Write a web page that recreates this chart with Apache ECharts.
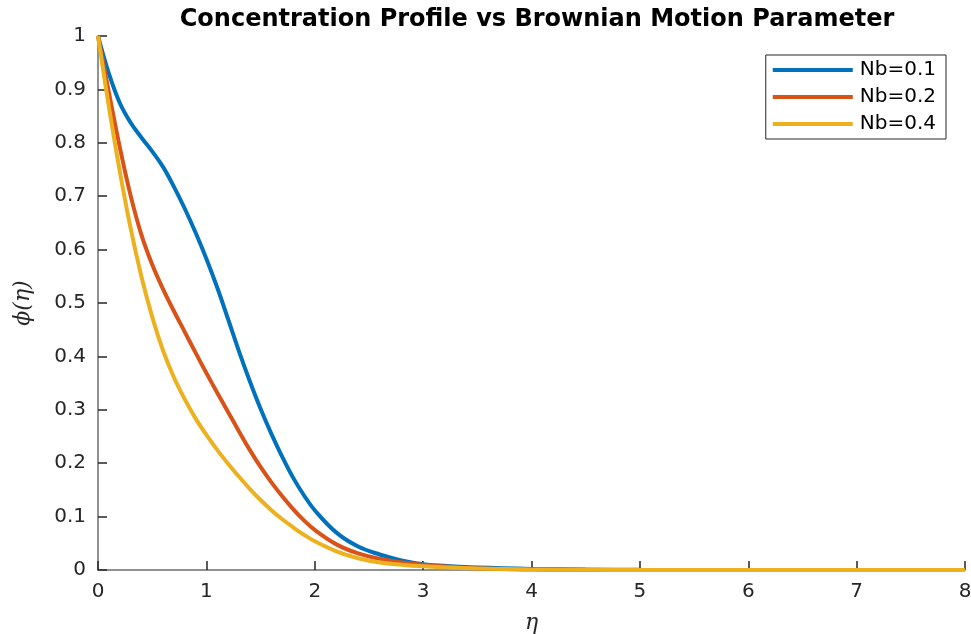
<!DOCTYPE html>
<html>
<head>
<meta charset="utf-8">
<script src="https://cdn.jsdelivr.net/npm/echarts@6/dist/echarts.min.js"></script>
<style>
  html, body { margin: 0; padding: 0; background: #ffffff; }
  #chart { width: 971px; height: 634px; }
</style>
</head>
<body>
<div id="chart"></div>
<script>
// Similarity variable η
const eta = [0, 0.1, 0.2, 0.3, 0.4, 0.5, 0.6, 0.7, 0.8, 0.9, 1.0,
             1.1, 1.2, 1.3, 1.4, 1.5, 1.6, 1.7, 1.8, 1.9, 2.0,
             2.2, 2.4, 2.6, 2.8, 3.0, 3.25, 3.5, 4, 4.5, 5, 6, 7, 8];

// Concentration φ(η) for each Brownian motion parameter
const phiNb01 = [1.0, 0.930, 0.875, 0.838, 0.810, 0.784, 0.755, 0.718, 0.677, 0.632, 0.583,
                 0.529, 0.470, 0.410, 0.354, 0.302, 0.255, 0.212, 0.173, 0.140, 0.112,
                 0.070, 0.044, 0.029, 0.018, 0.011, 0.007, 0.0045, 0.002, 0.0008, 0.0003, 0.0001, 0, 0];
const phiNb02 = [1.0, 0.895, 0.793, 0.702, 0.628, 0.572, 0.526, 0.485, 0.446, 0.407, 0.369,
                 0.332, 0.296, 0.260, 0.225, 0.193, 0.164, 0.138, 0.114, 0.093, 0.075,
                 0.048, 0.031, 0.021, 0.014, 0.010, 0.006, 0.003, 0.001, 0.0004, 0.0001, 0, 0, 0];
const phiNb04 = [1.0, 0.868, 0.748, 0.641, 0.550, 0.474, 0.411, 0.361, 0.320, 0.284, 0.253,
                 0.225, 0.199, 0.175, 0.152, 0.131, 0.112, 0.095, 0.080, 0.066, 0.054,
                 0.035, 0.022, 0.014, 0.010, 0.007, 0.0045, 0.003, 0.001, 0.0004, 0.0001, 0, 0, 0];

const seriesNames = ['Nb=0.1', 'Nb=0.2', 'Nb=0.4'];
const seriesColors = ['#0072BD', '#D95319', '#EDB120'];
const seriesValues = [phiNb01, phiNb02, phiNb04];

const pairs = (ys) => eta.map((x, i) => [x, ys[i]]);

const chart = echarts.init(document.getElementById('chart'), null, { renderer: 'canvas' });

const labelFont = { fontFamily: 'DejaVu Sans', fontSize: 20, color: '#262626' };
const mathFont = { fontFamily: 'DejaVu Serif', fontStyle: 'italic', fontSize: 22, color: '#262626' };

chart.setOption({
  animation: false,
  backgroundColor: '#ffffff',
  title: {
    text: 'Concentration Profile vs Brownian Motion Parameter',
    left: 532,
    top: 3,
    textAlign: 'center',
    textStyle: { fontFamily: 'DejaVu Sans', fontWeight: 'bold', fontSize: 24, color: '#000000' }
  },
  grid: { left: 98, right: 6, top: 36, bottom: 64, containLabel: false, outerBoundsMode: 'none' },
  legend: {
    orient: 'vertical',
    right: 25,
    top: 55,
    data: seriesNames,
    icon: 'rect',
    itemWidth: 80,
    itemHeight: 4,
    itemGap: 7,
    padding: [5, 10, 5, 7],
    backgroundColor: '#ffffff',
    borderColor: '#262626',
    borderWidth: 1,
    textStyle: { fontFamily: 'DejaVu Sans', fontSize: 20, color: '#000000', padding: [0, 0, 0, 2] }
  },
  xAxis: {
    type: 'value',
    min: 0,
    max: 8,
    interval: 1,
    name: 'η',
    nameLocation: 'middle',
    nameGap: 42,
    nameTextStyle: mathFont,
    axisLine: { show: true, lineStyle: { color: '#6e6e6e', width: 1.5 } },
    axisTick: { show: true, inside: true, length: 9, lineStyle: { color: '#262626', width: 1.5 } },
    axisLabel: Object.assign({ margin: 12 }, labelFont),
    splitLine: { show: false }
  },
  yAxis: {
    type: 'value',
    min: 0,
    max: 1,
    interval: 0.1,
    name: 'ϕ(η)',
    nameLocation: 'middle',
    nameRotate: 90,
    nameGap: 64,
    nameTextStyle: mathFont,
    axisLine: { show: true, lineStyle: { color: '#6e6e6e', width: 1.5 } },
    axisTick: { show: true, inside: true, length: 9, lineStyle: { color: '#262626', width: 1.5 } },
    axisLabel: Object.assign({ margin: 12, formatter: (v) => String(Math.round(v * 10) / 10) }, labelFont),
    splitLine: { show: false }
  },
  series: seriesNames.map((name, k) => ({
    name: name,
    type: 'line',
    data: pairs(seriesValues[k]),
    smooth: 0.4,
    symbol: 'none',
    clip: true,
    lineStyle: { color: seriesColors[k], width: 4 },
    itemStyle: { color: seriesColors[k] },
    z: 2 + k
  }))
});
</script>
</body>
</html>
